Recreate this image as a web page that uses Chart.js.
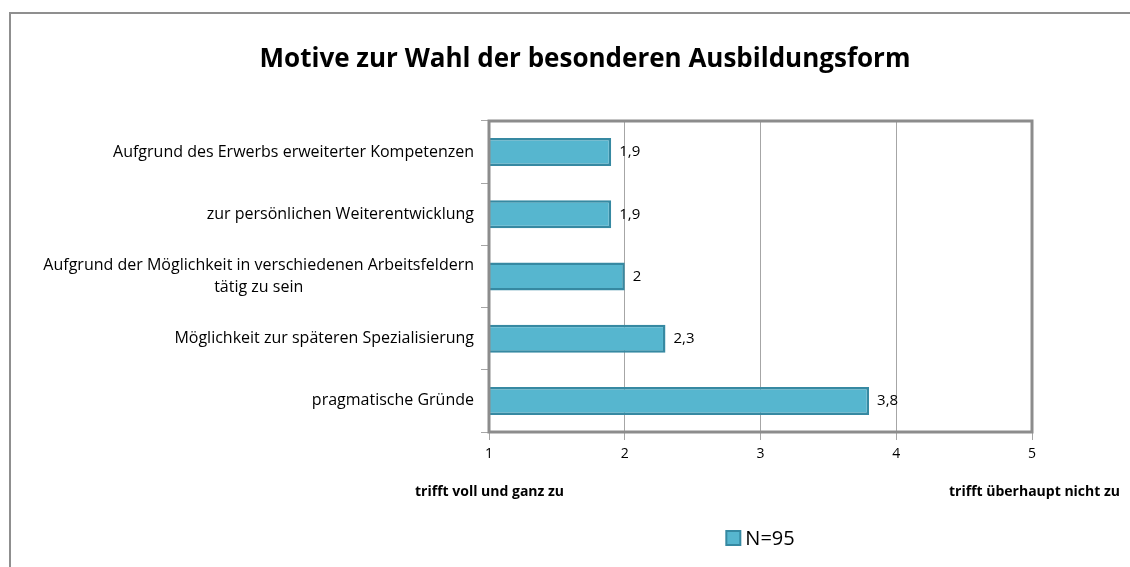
<!DOCTYPE html>
<html lang="de">
<head>
  <meta charset="UTF-8" />
  <title>Motive zur Wahl der besonderen Ausbildungsform</title>
  <script src="https://cdn.jsdelivr.net/npm/chart.js"></script>
  <style>
    html, body {
      margin: 0;
      padding: 0;
      background: #fff;
      width: 1130px;
      height: 567px;
      overflow: hidden;
      font-family: "Open Sans", sans-serif;
    }
    #frame {
      position: absolute;
      left: 9px;
      top: 12px;
      width: 1130px;
      height: 600px;
      border-left: 2px solid #8f8f8f;
      border-top: 2px solid #8f8f8f;
    }
    #chart-container {
      position: absolute;
      left: 0;
      top: 0;
      width: 1130px;
      height: 567px;
    }
  </style>
</head>
<body>
  <div id="frame"></div>
  <div id="chart-container">
    <canvas id="barChart"></canvas>
  </div>

  <script>
    // Daten
    const categories = [
      'Aufgrund des Erwerbs erweiterter Kompetenzen',
      'zur persönlichen Weiterentwicklung',
      ['Aufgrund der Möglichkeit in verschiedenen Arbeitsfeldern', 'tätig zu sein'],
      'Möglichkeit zur späteren Spezialisierung',
      'pragmatische Gründe'
    ];
    const values = [1.9, 1.9, 2, 2.3, 3.8];
    const seriesName = 'N=95';
    const tickValues = [1, 2, 3, 4, 5];

    const titleText = 'Motive zur Wahl der besonderen Ausbildungsform';
    const leftAxisText = 'trifft voll und ganz zu';
    const rightAxisText = 'trifft überhaupt nicht zu';

    const barFill = '#56b6cf';
    const barBorder = '#3689a2';
    const frameColor = '#8c8c8c';
    const FONT = '"Open Sans", sans-serif';

    // Rahmen, Beschriftungen, Legende
    const decorations = {
      id: 'decorations',
      afterDraw(chart) {
        const ctx = chart.ctx;
        const area = chart.chartArea;
        const yScale = chart.scales.y;
        const meta = chart.getDatasetMeta(0);
        ctx.save();

        // Plotrahmen
        ctx.strokeStyle = frameColor;
        ctx.lineWidth = 3;
        ctx.strokeRect(area.left, area.top, area.right - area.left, area.bottom - area.top);

        // Titel
        ctx.fillStyle = '#000';
        ctx.font = 'bold 26px ' + FONT;
        ctx.textAlign = 'center';
        ctx.textBaseline = 'middle';
        ctx.fillText(titleText, 585, 60);

        // Kategorien
        ctx.font = '16px ' + FONT;
        const labelRight = area.left - 15;
        categories.forEach((lab, i) => {
          const y = yScale.getPixelForValue(i);
          if (Array.isArray(lab)) {
            const w = Math.max(...lab.map(l => ctx.measureText(l).width));
            const cx = labelRight - w / 2;
            const lh = 22;
            const y0 = y - (lab.length - 1) * lh / 2;
            ctx.textAlign = 'center';
            lab.forEach((l, j) => ctx.fillText(l, cx, y0 + j * lh));
          } else {
            ctx.textAlign = 'right';
            ctx.fillText(lab, labelRight, y);
          }
        });

        // Datenbeschriftungen
        ctx.font = '15px ' + FONT;
        ctx.textAlign = 'left';
        meta.data.forEach((bar, i) => {
          ctx.fillText(String(values[i]).replace('.', ','), bar.x + 8, bar.y);
        });

        // Achsentitel
        ctx.font = 'bold 14px ' + FONT;
        ctx.textAlign = 'left';
        ctx.fillText(leftAxisText, 415, area.bottom + 60);
        ctx.textAlign = 'right';
        ctx.fillText(rightAxisText, 1120, area.bottom + 60);

        // Legende
        const lx = (area.left + area.right) / 2;
        ctx.font = '20px ' + FONT;
        const tw = ctx.measureText(seriesName).width;
        const boxX = lx - (14 + 5 + tw) / 2;
        const ly = area.bottom + 106;
        ctx.fillStyle = barFill;
        ctx.strokeStyle = barBorder;
        ctx.lineWidth = 2;
        ctx.fillRect(boxX, ly - 7, 14, 14);
        ctx.strokeRect(boxX, ly - 7, 14, 14);
        ctx.fillStyle = '#000';
        ctx.textAlign = 'left';
        ctx.fillText(seriesName, boxX + 19, ly + 1);

        ctx.restore();
      }
    };

    new Chart(document.getElementById('barChart'), {
      type: 'bar',
      data: {
        labels: categories,
        datasets: [{
          label: seriesName,
          data: values,
          backgroundColor: barFill,
          borderColor: barBorder,
          borderWidth: 2.5,
          borderSkipped: false,
          categoryPercentage: 1,
          barPercentage: 0.45
        }]
      },
      options: {
        indexAxis: 'y',
        responsive: true,
        maintainAspectRatio: false,
        animation: false,
        layout: {
          padding: { top: 121, right: 98, bottom: 105, left: 0 }
        },
        scales: {
          x: {
            min: 1,
            max: 5,
            afterBuildTicks(scale) {
              scale.ticks = tickValues.map(v => ({ value: v }));
            },
            afterFit(scale) { scale.height = 30; },
            grid: {
              color: '#a6a6a6',
              lineWidth: 1,
              drawTicks: true,
              tickLength: 8,
              tickColor: '#a6a6a6'
            },
            border: { display: false },
            ticks: {
              color: '#000',
              font: { family: FONT, size: 14 },
              padding: 6
            }
          },
          y: {
            afterFit(scale) { scale.width = 489; },
            grid: {
              offset: true,
              drawOnChartArea: false,
              drawTicks: true,
              tickLength: 8,
              color: '#a6a6a6'
            },
            border: { display: false },
            ticks: { display: false }
          }
        },
        plugins: {
          legend: { display: false },
          title: { display: false },
          tooltip: { enabled: false }
        }
      },
      plugins: [decorations]
    });
  </script>
</body>
</html>
